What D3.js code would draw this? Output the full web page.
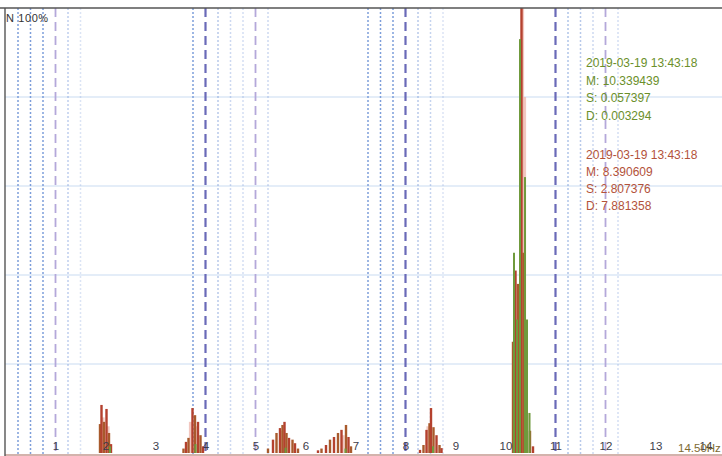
<!DOCTYPE html>
<html>
<head>
<meta charset="utf-8">
<script src="https://cdn.jsdelivr.net/npm/d3@7"></script>
<style>
html,body{margin:0;padding:0;background:#fff;overflow:hidden;}
svg{display:block;font-family:"Liberation Sans",Arial,sans-serif;}
</style>
</head>
<body>
<svg id="chart" width="722" height="456"></svg>
<script>
// ---- data ----
const tickValues = [1,2,3,4,5,6,7,8,9,10,11,12,13,14];
const yGridValues = [20,40,60,80];
const dashedStrong = [4, 8, 11];
const dashedLight = [1, 5, 12];
const dottedFreq = [0.25,0.5,0.75,1.25,1.5,3.75,4.25,4.5,4.75,5.25,7.25,7.5,7.75,8.25,8.5,8.75,11.25,11.5,11.75,12.25];
const dottedAlpha = [0.9,0.9,0.9,0.45,0.25,0.9,0.5,0.35,0.3,0.35,0.9,0.9,0.9,0.5,0.4,0.25,0.55,0.5,0.35,0.3];

const redFreq = [1.89,1.92,1.97,2.02,2.07,2.11,
  3.56,3.61,3.66,3.74,3.79,3.85,3.90,3.95,
  5.25,5.35,5.42,5.49,5.54,5.58,5.62,5.67,5.74,5.79,5.85,
  6.25,6.32,6.41,6.49,6.57,6.65,6.72,6.81,6.86,6.91,
  8.29,8.36,8.42,8.48,8.51,8.56,8.62,8.68,8.72,
  10.15,10.20,10.25,10.32,10.36,10.43,10.49,10.55];
const redVal = [6.5,10.8,7,9.9,4.5,2,
  1,2.5,3.4,10.1,8.5,7,4,1.5,
  1,3,4.5,5.6,6.3,7,4.5,3.4,3,2.2,1,
  0.6,1,1.8,3,3.6,4.5,5.2,6.3,3.6,1.5,
  0.7,1.8,5.2,6.7,10.1,5.8,4,1.8,1.1,
  25,41,38,100,45,9,5,1.5];

const greenFreq = [2.09,3.80,5.60,6.80,8.55,10.17,10.23,10.29,10.39,10.43,10.48];
const greenVal = [1.5,2,1.2,1,1.5,45,30,93,62,30,9];

const paleFreq = [1.95,2.05,3.70,3.83,5.52,6.75,8.45,10.27,10.34,10.38];
const paleVal = [8,6,7,6,5,4,6,35,100,80];

const legendGreen = ["2019-03-19 13:43:18","M: 10.339439","S: 0.057397","D: 0.003294"];
const legendRed = ["2019-03-19 13:43:18","M: 8.390609","S: 2.807376","D: 7.881358"];

// ---- scales ----
const svg = d3.select("#chart");
const x = d3.scaleLinear().domain([0, 14.5]).range([5.5, 730.5]);
const y = d3.scaleLinear().domain([0, 100]).range([453, 8]);

// horizontal grid
svg.append("g").selectAll("line").data(yGridValues).join("line")
  .attr("x1", 5).attr("x2", 722)
  .attr("y1", d => y(d)).attr("y2", d => y(d))
  .attr("stroke", "#c9dbf1").attr("stroke-width", 1.2);

// dotted vertical lines
svg.append("g").selectAll("line").data(dottedFreq).join("line")
  .attr("x1", d => x(d)).attr("x2", d => x(d))
  .attr("y1", 8).attr("y2", 456)
  .attr("stroke", "#6f93d6")
  .attr("stroke-opacity", (d,i) => dottedAlpha[i])
  .attr("stroke-width", 1.5)
  .attr("stroke-dasharray", "2,2");

// dashed light
svg.append("g").selectAll("line").data(dashedLight).join("line")
  .attr("x1", d => x(d)).attr("x2", d => x(d))
  .attr("y1", 8).attr("y2", 456)
  .attr("stroke", "#b4a8da").attr("stroke-width", 1.8)
  .attr("stroke-dasharray", "9,5");

// dashed strong
svg.append("g").selectAll("line").data(dashedStrong).join("line")
  .attr("x1", d => x(d)).attr("x2", d => x(d))
  .attr("y1", 8).attr("y2", 456)
  .attr("stroke", "#6a6ab8").attr("stroke-width", 2.2)
  .attr("stroke-dasharray", "9,5");

// bars
const bw = 2.4;
svg.append("g").selectAll("rect").data(paleFreq).join("rect")
  .attr("x", d => x(d) - 1.6).attr("width", 3.2)
  .attr("y", (d,i) => y(paleVal[i])).attr("height", (d,i) => y(0) - y(paleVal[i]))
  .attr("fill", "#efb9b0").attr("opacity", 0.8);

svg.append("g").selectAll("rect").data(redFreq).join("rect")
  .attr("x", d => x(d) - bw/2).attr("width", bw)
  .attr("y", (d,i) => y(redVal[i])).attr("height", (d,i) => y(0) - y(redVal[i]))
  .attr("fill", (d,i) => i % 2 ? "#b4412e" : "#a85a2c");

svg.append("g").selectAll("rect").data(greenFreq).join("rect")
  .attr("x", d => x(d) - 1).attr("width", 2)
  .attr("y", (d,i) => y(greenVal[i])).attr("height", (d,i) => y(0) - y(greenVal[i]))
  .attr("fill", "#6f9a3c");

// baseline
svg.append("line").attr("x1", 5).attr("x2", 722).attr("y1", 455).attr("y2", 455)
  .attr("stroke", "#c49a90").attr("stroke-width", 1.5);

// frame
svg.append("line").attr("x1", 0).attr("x2", 722).attr("y1", 8).attr("y2", 8)
  .attr("stroke", "#555").attr("stroke-width", 1.6);
svg.append("line").attr("x1", 5).attr("x2", 5).attr("y1", 8).attr("y2", 456)
  .attr("stroke", "#555").attr("stroke-width", 1.4);

// tick labels
const xAxis = d3.axisBottom(x).tickValues(tickValues).tickSize(0).tickFormat(d3.format("d"));
const ax = svg.append("g").attr("transform", "translate(0,439)").call(xAxis);
ax.select(".domain").remove();
ax.selectAll("text").attr("fill", "#3d3d4a").attr("font-size", 11.5)
  .attr("font-family", "\"Liberation Sans\",Arial,sans-serif");

svg.append("text").attr("x", 678).attr("y", 452)
  .attr("font-size", 11.5).attr("fill", "#7d6a32").text("14.50Hz");

svg.append("text").attr("x", 6).attr("y", 22)
  .attr("font-size", 11).attr("letter-spacing", 0.6).attr("fill", "#333").text("N 100%");

// legends
svg.append("g").selectAll("text").data(legendGreen).join("text")
  .attr("x", 586).attr("y", (d,i) => 67 + i*17.7)
  .attr("font-size", 12).attr("fill", "#6b8f2a").text(d => d);
svg.append("g").selectAll("text").data(legendRed).join("text")
  .attr("x", 586).attr("y", (d,i) => 159 + i*17)
  .attr("font-size", 12).attr("fill", "#b3523a").text(d => d);
</script>
</body>
</html>
